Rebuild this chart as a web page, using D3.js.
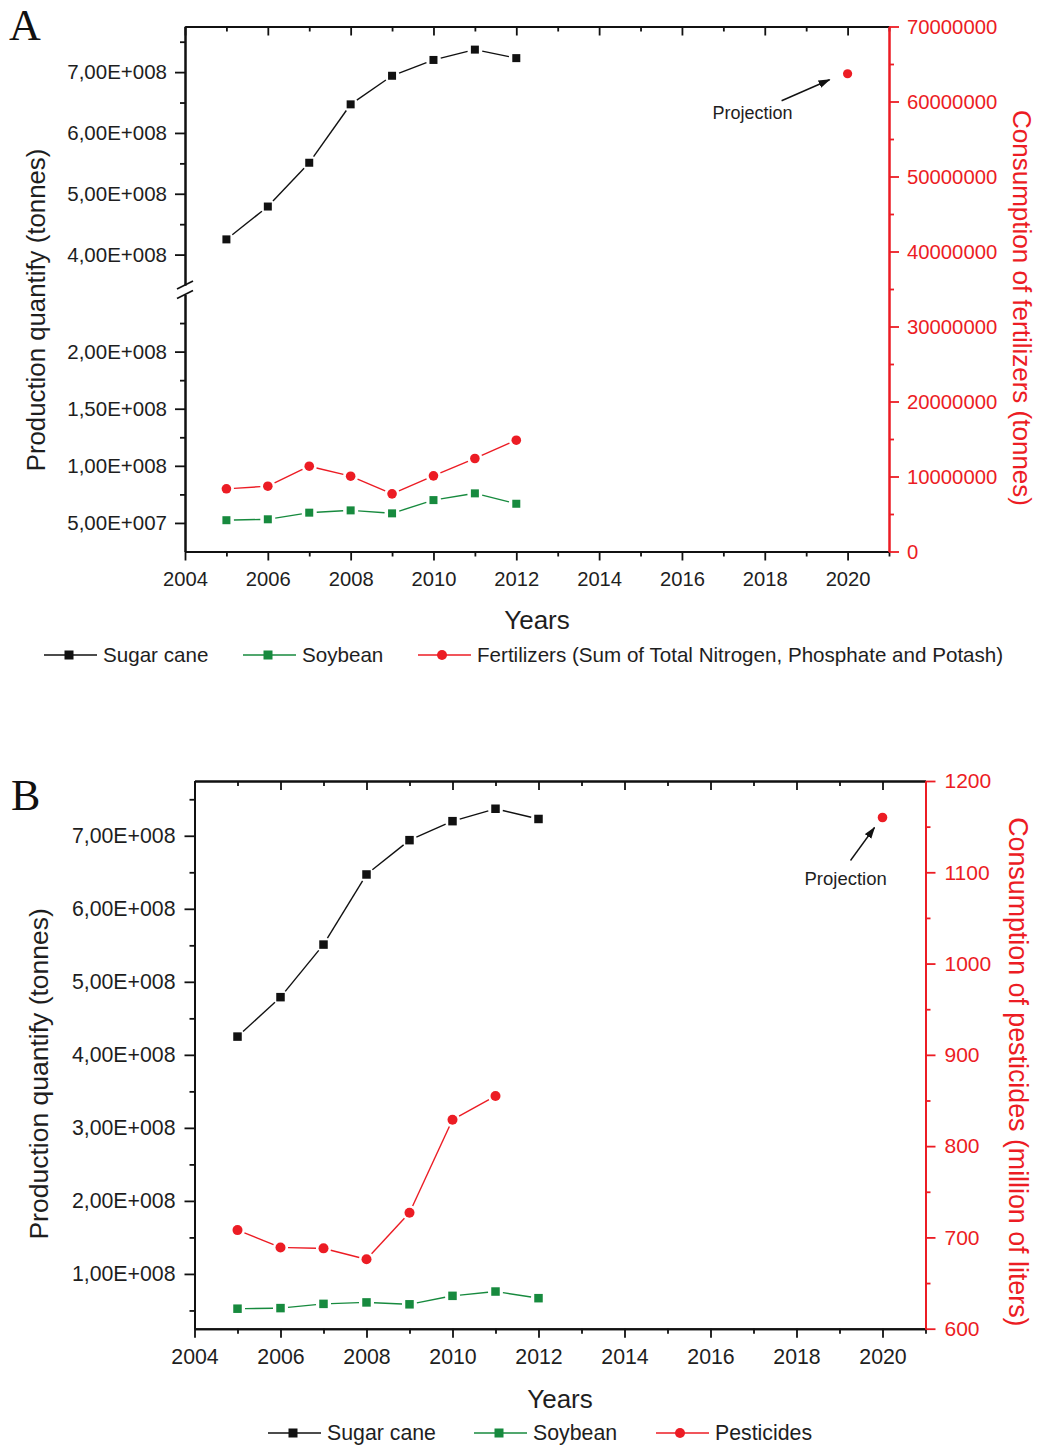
<!DOCTYPE html>
<html>
<head>
<meta charset="utf-8">
<script src="https://cdn.jsdelivr.net/npm/d3@7"></script>
<style>
body { margin: 0; background: #fff; }
svg { display: block; }
text { font-family: "Liberation Sans", Arial, sans-serif; }
</style>
</head>
<body>
<svg id="vis" width="1040" height="1447"></svg>
<script>
// values
var years = [2005, 2006, 2007, 2008, 2009, 2010, 2011, 2012];
var sugarCane = [4.25e8, 4.79e8, 5.51e8, 6.47e8, 6.94e8, 7.20e8, 7.37e8, 7.23e8];
var soybean = [5.24e7, 5.32e7, 5.90e7, 6.10e7, 5.84e7, 7.00e7, 7.59e7, 6.68e7];
var fertilizers = [8.36e6, 8.71e6, 11.37e6, 10.04e6, 7.69e6, 10.09e6, 12.40e6, 14.84e6];
var pesticideYears = [2005, 2006, 2007, 2008, 2009, 2010, 2011];
var pesticides = [708, 689, 688, 676, 727, 829, 855];
var projectionYear = 2020;
var fertilizerProjection = 6.37e7;
var pesticideProjection = 1160;

// ticks
var xTicks = [2004, 2006, 2008, 2010, 2012, 2014, 2016, 2018, 2020];
var xMinorTicks = [2005, 2007, 2009, 2011, 2013, 2015, 2017, 2019, 2021];
var upperTicksA = [4e8, 5e8, 6e8, 7e8];
var upperMinorA = [4.5e8, 5.5e8, 6.5e8, 7.5e8];
var lowerTicksA = [5e7, 1e8, 1.5e8, 2e8];
var lowerMinorA = [7.5e7, 1.25e8, 1.75e8, 2.25e8];
var fertTicks = [0, 1e7, 2e7, 3e7, 4e7, 5e7, 6e7, 7e7];
var fertMinor = [5e6, 1.5e7, 2.5e7, 3.5e7, 4.5e7, 5.5e7, 6.5e7];
var leftTicksB = [1e8, 2e8, 3e8, 4e8, 5e8, 6e8, 7e8];
var leftMinorB = [5e7, 1.5e8, 2.5e8, 3.5e8, 4.5e8, 5.5e8, 6.5e8, 7.5e8];
var pestTicks = [600, 700, 800, 900, 1000, 1100, 1200];
var pestMinor = [650, 750, 850, 950, 1050, 1150];

var BLACK = "#111";
var GREEN = "#178a3e";
var RED = "#ec1c24";
var TEXT = "#1e1e1e";

var svg = d3.select("#vis");

svg.append("defs").append("marker")
    .attr("id", "arrow")
    .attr("markerUnits", "userSpaceOnUse")
    .attr("markerWidth", 12)
    .attr("markerHeight", 10)
    .attr("refX", 11)
    .attr("refY", 4)
    .attr("orient", "auto")
    .append("path")
    .attr("d", "M0,0 L12,4 L0,8 Z")
    .attr("fill", "#111");

function sciFormat(v) {
    var e = Math.floor(Math.log10(v) + 1e-9);
    var m = v / Math.pow(10, e);
    return m.toFixed(2).replace(".", ",") + "E+" + String(e).padStart(3, "0");
}

function styleAxis(g, color, size) {
    g.select(".domain").attr("stroke", color).attr("stroke-width", 2);
    g.selectAll(".tick line").attr("stroke", color).attr("stroke-width", 1.8);
    g.selectAll(".tick text").attr("fill", color === BLACK ? TEXT : color)
        .style("font-size", size + "px");
    return g;
}

// line with small gaps around the markers
function gapLine(g, pts, color) {
    var gap = 7.5;
    for (var i = 0; i < pts.length - 1; i++) {
        var p = pts[i], q = pts[i + 1];
        var dx = q[0] - p[0], dy = q[1] - p[1];
        var len = Math.sqrt(dx * dx + dy * dy);
        if (len <= 2 * gap) continue;
        var ux = dx / len, uy = dy / len;
        g.append("line")
            .attr("x1", p[0] + ux * gap).attr("y1", p[1] + uy * gap)
            .attr("x2", q[0] - ux * gap).attr("y2", q[1] - uy * gap)
            .attr("stroke", color)
            .attr("stroke-width", 1.4);
    }
}

function squares(g, pts, color, s) {
    g.selectAll(null).data(pts).enter().append("rect")
        .attr("x", function (d) { return d[0] - s / 2; })
        .attr("y", function (d) { return d[1] - s / 2; })
        .attr("width", s).attr("height", s)
        .attr("fill", color);
}

function circles(g, pts, color, r) {
    g.selectAll(null).data(pts).enter().append("circle")
        .attr("cx", function (d) { return d[0]; })
        .attr("cy", function (d) { return d[1]; })
        .attr("r", r)
        .attr("fill", color);
}

function xAxes(g, x, top, bottom, size) {
    styleAxis(g.append("g")
        .attr("transform", "translate(0," + bottom + ")")
        .call(d3.axisBottom(x).tickValues(xTicks).tickSize(9).tickSizeOuter(0)
            .tickPadding(11).tickFormat(d3.format("d"))), BLACK, size);
    styleAxis(g.append("g")
        .attr("transform", "translate(0," + bottom + ")")
        .call(d3.axisBottom(x).tickValues(xMinorTicks).tickSize(5).tickSizeOuter(0)
            .tickFormat("")), BLACK, size);
    styleAxis(g.append("g")
        .attr("transform", "translate(0," + top + ")")
        .call(d3.axisTop(x).tickValues(xTicks).tickSize(-9).tickSizeOuter(0)
            .tickFormat("")), BLACK, size);
    styleAxis(g.append("g")
        .attr("transform", "translate(0," + top + ")")
        .call(d3.axisTop(x).tickValues(xMinorTicks).tickSize(-5).tickSizeOuter(0)
            .tickFormat("")), BLACK, size);
}

function legendItem(g, x0, y0, label, color, kind, size) {
    g.append("line")
        .attr("x1", x0).attr("x2", x0 + 53)
        .attr("y1", y0).attr("y2", y0)
        .attr("stroke", color).attr("stroke-width", 1.4);
    if (kind === "square") {
        squares(g, [[x0 + 25, y0]], color, 9);
    } else {
        circles(g, [[x0 + 24, y0]], color, 5);
    }
    g.append("text")
        .attr("x", x0 + 59).attr("y", y0 + 6.5)
        .attr("fill", TEXT)
        .style("font-size", size + "px")
        .text(label);
}

// ---------------- panel A ----------------
(function () {
    var left = 185, right = 889, top = 26.5, bottom = 551.5;
    var x = d3.scaleLinear().domain([2004, 2021]).range([left, right]);
    var yUpper = d3.scaleLinear().domain([3.5e8, 7.75e8]).range([285, top]);
    var yLower = d3.scaleLinear().domain([2.5e7, 2.5e8]).range([bottom, 294.5]);
    var yRight = d3.scaleLinear().domain([0, 7e7]).range([bottom, top]);

    var g = svg.append("g");

    g.append("text")
        .attr("x", 9).attr("y", 40)
        .style("font-family", "'Liberation Serif', 'Times New Roman', serif")
        .style("font-size", "44px")
        .attr("fill", "#111")
        .text("A");

    xAxes(g, x, top, bottom, 20.2);

    // left axis, broken in two parts
    styleAxis(g.append("g").attr("transform", "translate(" + left + ",0)")
        .call(d3.axisLeft(yUpper).tickValues(upperTicksA).tickSize(10).tickSizeOuter(0)
            .tickPadding(8).tickFormat(sciFormat)), BLACK, 20.5);
    styleAxis(g.append("g").attr("transform", "translate(" + left + ",0)")
        .call(d3.axisLeft(yUpper).tickValues(upperMinorA).tickSize(5).tickSizeOuter(0)
            .tickFormat("")), BLACK, 20);
    styleAxis(g.append("g").attr("transform", "translate(" + left + ",0)")
        .call(d3.axisLeft(yLower).tickValues(lowerTicksA).tickSize(10).tickSizeOuter(0)
            .tickPadding(8).tickFormat(sciFormat)), BLACK, 20.5);
    styleAxis(g.append("g").attr("transform", "translate(" + left + ",0)")
        .call(d3.axisLeft(yLower).tickValues(lowerMinorA).tickSize(5).tickSizeOuter(0)
            .tickFormat("")), BLACK, 20);

    // break marks
    [yUpper.range()[0], yLower.range()[1]].forEach(function (yb) {
        g.append("line")
            .attr("x1", left - 8).attr("y1", yb + 4)
            .attr("x2", left + 8).attr("y2", yb - 4)
            .attr("stroke", BLACK).attr("stroke-width", 1.8);
    });

    // right axis
    styleAxis(g.append("g").attr("transform", "translate(" + right + ",0)")
        .call(d3.axisRight(yRight).tickValues(fertTicks).tickSize(10).tickSizeOuter(0)
            .tickPadding(8).tickFormat(d3.format("d"))), RED, 20.3);
    styleAxis(g.append("g").attr("transform", "translate(" + right + ",0)")
        .call(d3.axisRight(yRight).tickValues(fertMinor).tickSize(5).tickSizeOuter(0)
            .tickFormat("")), RED, 20);

    // titles
    g.append("text")
        .attr("transform", "translate(45," + ((top + bottom) / 2 + 21) + ") rotate(-90)")
        .attr("text-anchor", "middle")
        .attr("fill", TEXT)
        .style("font-size", "25.8px")
        .text("Production quantify (tonnes)");
    g.append("text")
        .attr("transform", "translate(1013," + ((top + bottom) / 2 + 19) + ") rotate(90)")
        .attr("text-anchor", "middle")
        .attr("fill", RED)
        .style("font-size", "26px")
        .text("Consumption of fertilizers (tonnes)");
    g.append("text")
        .attr("x", (left + right) / 2).attr("y", 629)
        .attr("text-anchor", "middle")
        .attr("fill", TEXT)
        .style("font-size", "26px")
        .text("Years");

    // series
    var sugarPts = years.map(function (d, i) { return [x(d), yUpper(sugarCane[i])]; });
    var soyPts = years.map(function (d, i) { return [x(d), yLower(soybean[i])]; });
    var fertPts = years.map(function (d, i) { return [x(d), yRight(fertilizers[i])]; });

    gapLine(g, sugarPts, BLACK);
    gapLine(g, soyPts, GREEN);
    gapLine(g, fertPts, RED);
    squares(g, sugarPts, BLACK, 8);
    squares(g, soyPts, GREEN, 8);
    circles(g, fertPts, RED, 4.8);

    var px = x(projectionYear), py = yRight(fertilizerProjection);
    circles(g, [[px, py]], RED, 4.6);
    g.append("line")
        .attr("x1", px - 66).attr("y1", py + 27)
        .attr("x2", px - 18).attr("y2", py + 6)
        .attr("stroke", "#111").attr("stroke-width", 1.4)
        .attr("marker-end", "url(#arrow)");
    g.append("text")
        .attr("x", px - 135).attr("y", py + 45)
        .attr("fill", TEXT)
        .style("font-size", "18px")
        .text("Projection");

    // legend
    legendItem(g, 44, 655, "Sugar cane", BLACK, "square", 20.6);
    legendItem(g, 243, 655, "Soybean", GREEN, "square", 20.6);
    legendItem(g, 418, 655, "Fertilizers (Sum of Total Nitrogen, Phosphate and Potash)", RED, "circle", 20.6);
})();

// ---------------- panel B ----------------
(function () {
    var left = 194.5, right = 925.5, top = 781, bottom = 1328.7;
    var x = d3.scaleLinear().domain([2004, 2021]).range([left, right]);
    var yLeft = d3.scaleLinear().domain([2.5e7, 7.75e8]).range([bottom, top]);
    var yRight = d3.scaleLinear().domain([600, 1200]).range([bottom, top]);

    var g = svg.append("g");

    g.append("text")
        .attr("x", 11).attr("y", 810)
        .style("font-family", "'Liberation Serif', 'Times New Roman', serif")
        .style("font-size", "44px")
        .attr("fill", "#111")
        .text("B");

    xAxes(g, x, top, bottom, 21.3);

    styleAxis(g.append("g").attr("transform", "translate(" + left + ",0)")
        .call(d3.axisLeft(yLeft).tickValues(leftTicksB).tickSize(10).tickSizeOuter(0)
            .tickPadding(9).tickFormat(sciFormat)), BLACK, 21.3);
    styleAxis(g.append("g").attr("transform", "translate(" + left + ",0)")
        .call(d3.axisLeft(yLeft).tickValues(leftMinorB).tickSize(5).tickSizeOuter(0)
            .tickFormat("")), BLACK, 20);

    styleAxis(g.append("g").attr("transform", "translate(" + right + ",0)")
        .call(d3.axisRight(yRight).tickValues(pestTicks).tickSize(10).tickSizeOuter(0)
            .tickPadding(9).tickFormat(d3.format("d"))), RED, 21);
    styleAxis(g.append("g").attr("transform", "translate(" + right + ",0)")
        .call(d3.axisRight(yRight).tickValues(pestMinor).tickSize(5).tickSizeOuter(0)
            .tickFormat("")), RED, 20);

    g.append("text")
        .attr("transform", "translate(48," + ((top + bottom) / 2 + 19) + ") rotate(-90)")
        .attr("text-anchor", "middle")
        .attr("fill", TEXT)
        .style("font-size", "26.5px")
        .text("Production quantify (tonnes)");
    g.append("text")
        .attr("transform", "translate(1009," + ((top + bottom) / 2 + 17) + ") rotate(90)")
        .attr("text-anchor", "middle")
        .attr("fill", RED)
        .style("font-size", "26.8px")
        .text("Consumption of pesticides (million of liters)");
    g.append("text")
        .attr("x", (left + right) / 2).attr("y", 1408)
        .attr("text-anchor", "middle")
        .attr("fill", TEXT)
        .style("font-size", "26px")
        .text("Years");

    var sugarPts = years.map(function (d, i) { return [x(d), yLeft(sugarCane[i])]; });
    var soyPts = years.map(function (d, i) { return [x(d), yLeft(soybean[i])]; });
    var pestPts = pesticideYears.map(function (d, i) { return [x(d), yRight(pesticides[i])]; });

    gapLine(g, sugarPts, BLACK);
    gapLine(g, soyPts, GREEN);
    gapLine(g, pestPts, RED);
    squares(g, sugarPts, BLACK, 8.5);
    squares(g, soyPts, GREEN, 8.5);
    circles(g, pestPts, RED, 5);

    var px = x(projectionYear), py = yRight(pesticideProjection);
    circles(g, [[px, py]], RED, 4.8);
    g.append("line")
        .attr("x1", px - 32).attr("y1", py + 43)
        .attr("x2", px - 8).attr("y2", py + 10)
        .attr("stroke", "#111").attr("stroke-width", 1.4)
        .attr("marker-end", "url(#arrow)");
    g.append("text")
        .attr("x", px - 78).attr("y", py + 67)
        .attr("fill", TEXT)
        .style("font-size", "18.5px")
        .text("Projection");

    legendItem(g, 268, 1433, "Sugar cane", BLACK, "square", 21.3);
    legendItem(g, 474, 1433, "Soybean", GREEN, "square", 21.3);
    legendItem(g, 656, 1433, "Pesticides", RED, "circle", 21.3);
})();
</script>
</body>
</html>
